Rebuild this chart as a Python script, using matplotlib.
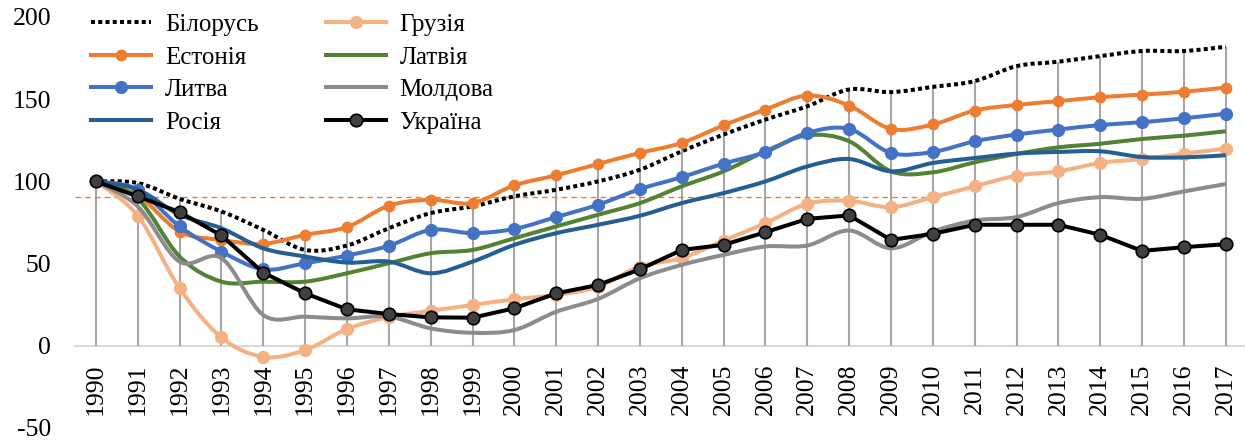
import numpy as np
import matplotlib
matplotlib.use('Agg')
import matplotlib.pyplot as plt
from matplotlib.path import Path
from matplotlib.patches import PathPatch
from matplotlib.lines import Line2D

plt.rcParams['font.family'] = ['Liberation Serif', 'DejaVu Serif']
plt.rcParams['axes.unicode_minus'] = False

years = list(range(1990, 2018))

belarus = [100, 99, 89.4, 81.7, 70.5, 58.3, 61.0, 71.5, 80.7, 84.8, 90.9, 94.9, 100, 107.1,
           118.3, 128.5, 137.6, 145.7, 155.9, 154.3, 157.5, 161.0, 170.1, 172.8, 176.2, 179.3, 179.3, 181.9]
georgia = [100, 79.1, 35.0, 5.1, -6.7, -2.6, 10.2, 17.5, 21.3, 24.8, 28.3, 30.9, 36.0, 48.2,
           53.3, 64.0, 74.6, 86.4, 88.2, 84.3, 90.4, 97.0, 103.5, 106.1, 111.2, 113.6, 116.9, 119.9]
estonia = [100, 91.5, 69.5, 64.4, 62.0, 67.5, 72.2, 85.2, 88.8, 86.8, 97.6, 103.7, 110.6, 117.3,
           123.4, 134.1, 143.7, 152.2, 146.1, 131.9, 134.6, 143.1, 146.5, 148.8, 151.2, 152.8, 154.5, 157.1]
latvia = [100, 89.5, 54.3, 39.0, 39.0, 39.0, 44.1, 50.2, 56.3, 58.3, 65.4, 72.6, 79.7, 86.8,
          97.0, 106.1, 118.3, 128.0, 124.4, 106.1, 105.5, 111.6, 116.7, 120.7, 122.9, 125.8, 127.8, 130.5]
lithuania = [100, 95.0, 72.6, 57.3, 46.5, 50.2, 54.9, 60.8, 70.5, 68.5, 71.1, 78.3, 85.8, 95.3,
             102.6, 110.8, 117.9, 129.5, 131.9, 117.3, 117.9, 124.4, 128.5, 131.5, 134.3, 136.0, 138.4, 141.1]
moldova = [100, 84.8, 51.2, 53.3, 18.7, 17.7, 16.7, 17.7, 10.6, 7.9, 9.6, 20.7, 28.5, 41.1,
           49.2, 55.3, 60.4, 61.0, 70.1, 59.3, 69.5, 76.2, 78.3, 86.8, 90.4, 89.4, 93.9, 98.4]
russia = [100, 95.0, 79.7, 71.5, 59.3, 54.3, 50.6, 51.2, 44.1, 51.2, 61.4, 68.5, 73.6, 79.1,
          86.8, 92.9, 100.0, 109.1, 113.6, 106.1, 111.2, 114.2, 116.9, 117.9, 118.3, 114.8, 114.6, 115.9]
ukraine = [100, 90.9, 81.3, 67.1, 44.5, 31.9, 22.2, 19.3, 17.3, 17.1, 22.8, 31.9, 37.0, 46.5,
           58.3, 61.4, 69.1, 77.2, 79.3, 64.4, 68.1, 73.6, 73.6, 73.6, 67.5, 57.7, 60.0, 61.8]

ref_level = 90.6
ref_end = 2010.2


def smooth_path(x, y):
    # excel-like smoothed line: bezier segments through every point
    p = np.column_stack([x, y]).astype(float)
    n = len(p)
    verts = [p[0]]
    codes = [Path.MOVETO]
    for i in range(n - 1):
        p0 = p[max(i - 1, 0)]
        p3 = p[min(i + 2, n - 1)]
        c1 = p[i] + (p[i + 1] - p0) / 6.0
        c2 = p[i + 1] - (p3 - p[i]) / 6.0
        verts += [c1, c2, p[i + 1]]
        codes += [Path.CURVE4] * 3
    return Path(verts, codes)


fig = plt.figure(figsize=(12.45, 4.41), dpi=100)
ax = fig.add_axes([0.0602, 0.0295, 0.9412, 0.932])

# drop lines from the top series down to the axis
tops = np.max([belarus, georgia, estonia, latvia, lithuania, moldova, russia, ukraine], axis=0)
ax.vlines(years, 0, tops, color='#a6a6a6', lw=1.5, zorder=1)

ax.axhline(ref_level, xmin=0, xmax=(ref_end - 1989.5) / 28.0, color='#ed7d31',
           lw=1.0, ls=(0, (4, 3)), zorder=1.5)

series = [
    ('Білорусь', belarus, dict(color='black', ls=(0, (1, 0.8)), marker=None)),
    ('Грузія', georgia, dict(color='#f4b183', ls='-', marker='o', ms=8.5, mfc='#f4b183', mec='#f4b183')),
    ('Естонія', estonia, dict(color='#ed7d31', ls='-', marker='o', ms=7.5, mfc='#ed7d31', mec='#ed7d31')),
    ('Латвія', latvia, dict(color='#548235', ls='-', marker=None)),
    ('Литва', lithuania, dict(color='#4472c4', ls='-', marker='o', ms=8.5, mfc='#4472c4', mec='#4472c4')),
    ('Молдова', moldova, dict(color='#8c8c8c', ls='-', marker=None)),
    ('Росія', russia, dict(color='#255e91', ls='-', marker=None)),
]

handles = {}
z = 2
for name, vals, st in series:
    patch = PathPatch(smooth_path(years, vals), fill=False, edgecolor=st['color'], lw=2.9,
                      linestyle=st['ls'], zorder=z, capstyle='butt')
    ax.add_patch(patch)
    if st['marker']:
        ax.plot(years, vals, ls='none', marker='o', ms=st['ms'], mfc=st['mfc'], mec=st['mec'], zorder=z + 0.1)
        handles[name] = Line2D([], [], color=st['color'], lw=2.9, marker='o', ms=st['ms'],
                               mfc=st['mfc'], mec=st['mec'])
    else:
        handles[name] = Line2D([], [], color=st['color'], lw=2.9, ls=st['ls'])
    z += 1

ax.plot(years, ukraine, color='black', lw=2.9, marker='o', ms=9, mfc='#404040', mec='black',
        mew=1.2, zorder=z)
handles['Україна'] = Line2D([], [], color='black', lw=2.9, marker='o', ms=9, mfc='#404040',
                            mec='black', mew=1.2)

ax.set_xlim(1989.5, 2017.5)
ax.set_ylim(-50, 200)
ax.set_yticks([-50, 0, 50, 100, 150, 200])
ax.set_xticks(years)
ax.set_xticklabels([str(y) for y in years])

for s in ['top', 'right', 'left']:
    ax.spines[s].set_visible(False)
ax.spines['bottom'].set_position(('data', 0))
ax.spines['bottom'].set_color('#d9d9d9')
ax.spines['bottom'].set_linewidth(1.5)
ax.spines['bottom'].set_zorder(0.5)
ax.tick_params(axis='x', length=0, pad=13, labelsize=18.5, labelrotation=90)
ax.tick_params(axis='y', length=0, pad=17, labelsize=18.5)
ax.patch.set_alpha(0)

order = ['Білорусь', 'Естонія', 'Литва', 'Росія', 'Грузія', 'Латвія', 'Молдова', 'Україна']
leg = fig.legend([handles[k] for k in order], order, ncol=2, loc='upper left',
                 bbox_to_anchor=(0.055, 1.02), frameon=False, fontsize=18,
                 handlelength=2.4, handletextpad=0.55, columnspacing=2.7, labelspacing=0.4)

fig.savefig('out.png', dpi=100)
